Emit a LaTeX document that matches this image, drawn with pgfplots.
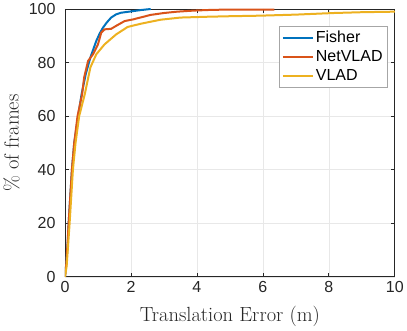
\documentclass[border=0pt]{standalone}
\usepackage{fontspec}
\usepackage{pgfplots}
\pgfplotsset{compat=1.18}
\newfontfamily\arial{Liberation Sans}

\definecolor{mblue}{rgb}{0,0.447,0.741}
\definecolor{mred}{rgb}{0.850,0.325,0.098}
\definecolor{myellow}{rgb}{0.929,0.694,0.125}
\definecolor{axgray}{rgb}{0.15,0.15,0.15}

\begin{document}
\begin{tikzpicture}
\begin{axis}[
  scale only axis,
  width=330pt, height=268pt,
  xmin=0, xmax=10, ymin=0, ymax=100,
  xtick={0,2,...,10}, ytick={0,20,...,100},
  grid=major,
  major grid style={gray!18, line width=0.6pt},
  axis line style={axgray, line width=0.7pt},
  tick style={axgray, line width=0.7pt},
  major tick length=4pt,
  tick align=inside,
  /pgf/number format/assume math mode=true,
  tick label style={font=\arial\fontsize{16}{18}\selectfont, text=axgray},
  yticklabel style={xshift=-6pt},
  xticklabel style={yshift=-1pt},
  xlabel={Translation Error (m)},
  ylabel={\% of frames},
  label style={font=\fontsize{20.5}{22}\selectfont, text=axgray},
  xlabel style={at={(axis description cs:0.5,-0.149)}, anchor=center},
  ylabel style={at={(axis description cs:-0.162,0.5)}, anchor=center},
  legend style={at={(0.979,0.937)}, anchor=north east,
    font=\arial\fontsize{16}{18}\selectfont, draw=gray!70, line width=0.6pt,
    inner xsep=3pt, inner ysep=2pt, row sep=0pt,
    nodes={text height=12pt, text depth=3pt, inner sep=2pt},
    cells={anchor=west}},
  legend image code/.code={\draw[#1] (0pt,0pt) -- (30pt,0pt);},
  every axis plot/.append style={line width=2pt},
]
\addplot[mblue] coordinates {
  (0,0) (0.04,5) (0.08,12) (0.11,20) (0.16,30) (0.21,40) (0.28,50)
  (0.4,60) (0.5,68) (0.63,75.7) (0.77,81.9) (0.86,85) (0.95,88.1)
  (1.05,90.8) (1.15,93) (1.27,95) (1.4,96.8) (1.55,98) (1.7,98.6)
  (2.06,99.2) (2.3,99.6) (2.6,100)
};
\addlegendentry{Fisher}
\addplot[mred] coordinates {
  (0,0) (0.04,5) (0.08,13) (0.11,20) (0.16,30) (0.21,40) (0.28,50)
  (0.38,60) (0.52,68.2) (0.58,74.4) (0.7,80.6) (0.85,83.1) (1.0,86.8)
  (1.1,91.2) (1.2,92.4) (1.4,92.6) (1.55,93.7) (1.81,95.5) (2.06,96.1)
  (2.6,97.8) (3.0,98.5) (3.4,99) (3.9,99.4) (4.5,99.7) (5.5,99.8) (6.35,99.8)
};
\addlegendentry{NetVLAD}
\addplot[myellow] coordinates {
  (0,0) (0.05,4) (0.09,11) (0.14,20) (0.19,30) (0.24,40) (0.32,50)
  (0.43,60) (0.6,68.2) (0.77,78.2) (0.95,83.1) (1.2,86.8) (1.55,90.5)
  (1.9,93.3) (2.3,94.5) (2.9,96) (3.5,96.8) (4.3,97.1) (5.0,97.3)
  (5.9,97.5) (7.0,97.9) (8.15,98.5) (9,98.8) (10,99)
};
\addlegendentry{VLAD}
\end{axis}
\end{tikzpicture}
\end{document}
